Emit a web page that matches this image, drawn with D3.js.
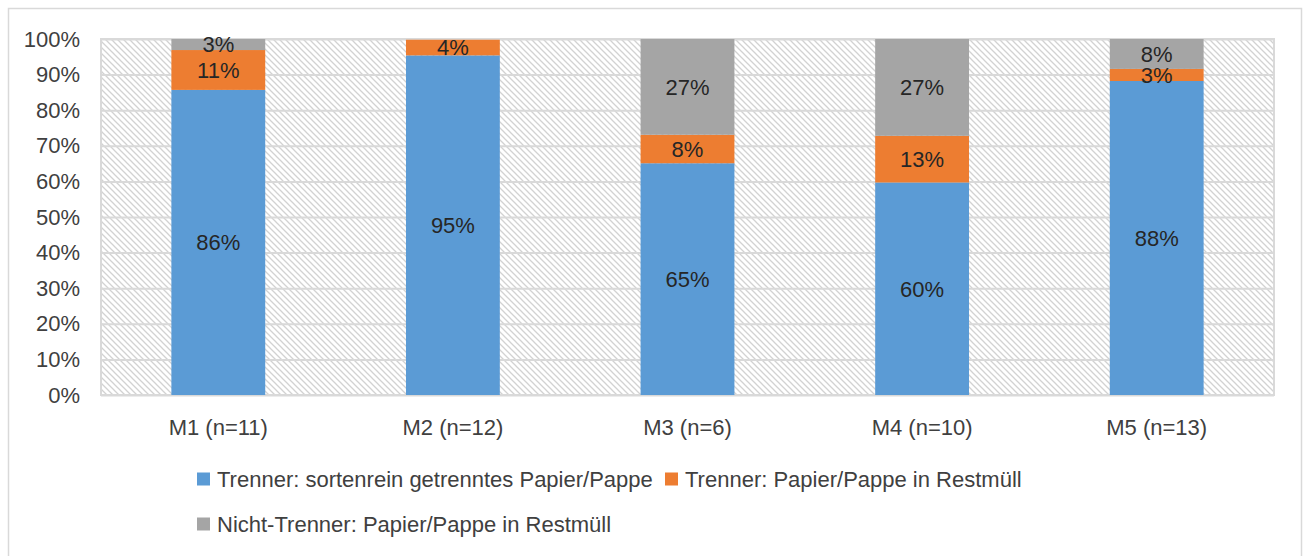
<!DOCTYPE html>
<html>
<head>
<meta charset="utf-8">
<script src="https://cdn.jsdelivr.net/npm/d3@7"></script>
<style>
  html, body { margin: 0; padding: 0; background: #fff; }
  svg { display: block; font-family: "Liberation Sans", Arial, sans-serif; }
</style>
</head>
<body>
<svg id="chart" width="1304" height="556"></svg>
<script>
const categories = ["M1 (n=11)", "M2 (n=12)", "M3 (n=6)", "M4 (n=10)", "M5 (n=13)"];
const seriesNames = [
  "Trenner: sortenrein getrenntes Papier/Pappe",
  "Trenner: Papier/Pappe in Restmüll",
  "Nicht-Trenner: Papier/Pappe in Restmüll"
];
const sortenrein = [85.7, 95.4, 65.1, 59.7, 88.2];
const trennerRest = [11.2, 4.4, 8.0, 13.1, 3.4];
const nichtTrenner = [3.1, 0, 26.9, 27.2, 8.4];
const yTicks = [0, 10, 20, 30, 40, 50, 60, 70, 80, 90, 100];
const colors = ["#5B9BD5", "#ED7D31", "#A5A5A5"];

const svg = d3.select("#chart");
const plot = { left: 101, right: 1274, top: 39, bottom: 395 };
const fontSize = 22;
const textColor = "#404040";

// outer frame
svg.append("rect").attr("x", 8.5).attr("y", 8.5).attr("width", 1293).attr("height", 560)
  .attr("fill", "#fff").attr("stroke", "#d9d9d9").attr("stroke-width", 1.5);

// hatch pattern
const defs = svg.append("defs");
const pat = defs.append("pattern").attr("id", "hatch").attr("patternUnits", "userSpaceOnUse")
  .attr("width", 6).attr("height", 6);
pat.append("rect").attr("width", 6).attr("height", 6).attr("fill", "#fff");
pat.append("path").attr("d", "M-1,-1 L7,7 M-1,5 L1,7 M5,-1 L7,1")
  .attr("stroke", "#d2d2d2").attr("stroke-width", 1.3);

const x = d3.scaleBand().domain(categories).range([plot.left, plot.right])
  .paddingInner(0.6).paddingOuter(0.3);
const y = d3.scaleLinear().domain([0, 100]).range([plot.bottom, plot.top]);

svg.append("rect").attr("x", plot.left).attr("y", plot.top)
  .attr("width", plot.right - plot.left).attr("height", plot.bottom - plot.top)
  .attr("fill", "url(#hatch)");

// gridlines
svg.append("g").attr("transform", `translate(${plot.left},0)`)
  .call(d3.axisLeft(y).tickValues(yTicks).tickSize(-(plot.right - plot.left)).tickFormat(""))
  .call(g => g.select(".domain").remove())
  .call(g => g.selectAll("line").attr("stroke", "#d9d9d9").attr("stroke-width", 2));

// plot border
svg.append("rect").attr("x", plot.left).attr("y", plot.top)
  .attr("width", plot.right - plot.left).attr("height", plot.bottom - plot.top)
  .attr("fill", "none").attr("stroke", "#d9d9d9").attr("stroke-width", 2);

// stacked data
const rows = categories.map((c, i) => ({ cat: c, s0: sortenrein[i], s1: trennerRest[i], s2: nichtTrenner[i] }));
const stack = d3.stack().keys(["s0", "s1", "s2"])(rows);

const layers = svg.append("g").selectAll("g").data(stack).join("g")
  .attr("fill", (d, i) => colors[i]);
layers.selectAll("rect").data(d => d).join("rect")
  .attr("x", d => x(d.data.cat))
  .attr("width", x.bandwidth())
  .attr("y", d => y(d[1]))
  .attr("height", d => y(d[0]) - y(d[1]));

// labels
const labelG = svg.append("g").attr("font-size", fontSize).attr("fill", "#262626").attr("text-anchor", "middle");
stack.forEach(layer => {
  layer.forEach(d => {
    const v = d[1] - d[0];
    if (v <= 0) return;
    labelG.append("text")
      .attr("x", x(d.data.cat) + x.bandwidth() / 2)
      .attr("y", (y(d[0]) + y(d[1])) / 2)
      .attr("dy", "0.36em")
      .text(Math.round(v) + "%");
  });
});

// y axis labels
svg.append("g").attr("transform", `translate(${plot.left},0)`)
  .call(d3.axisLeft(y).tickValues(yTicks).tickSize(0).tickPadding(21).tickFormat(d => d + "%"))
  .call(g => g.select(".domain").remove())
  .call(g => g.selectAll("text").attr("font-size", fontSize).attr("fill", textColor)
    .attr("font-family", "Liberation Sans, Arial, sans-serif"));

// x axis labels
svg.append("g").attr("transform", `translate(0,${plot.bottom})`)
  .call(d3.axisBottom(x).tickSize(0).tickPadding(24))
  .call(g => g.select(".domain").remove())
  .call(g => g.selectAll("text").attr("font-size", fontSize).attr("fill", textColor)
    .attr("font-family", "Liberation Sans, Arial, sans-serif"));

// legend
const legendItems = [
  { name: seriesNames[0], color: colors[0], x: 197, y: 479 },
  { name: seriesNames[1], color: colors[1], x: 665, y: 479 },
  { name: seriesNames[2], color: colors[2], x: 197, y: 524 }
];
const lg = svg.append("g");
legendItems.forEach(it => {
  lg.append("rect").attr("x", it.x).attr("y", it.y - 6.5).attr("width", 13).attr("height", 13).attr("fill", it.color);
  lg.append("text").attr("x", it.x + 20).attr("y", it.y).attr("dy", "0.36em")
    .attr("font-size", fontSize).attr("fill", textColor).text(it.name);
});
</script>
</body>
</html>
